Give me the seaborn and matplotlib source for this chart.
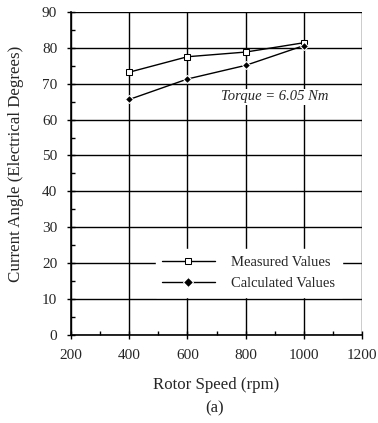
import pandas as pd
import seaborn as sns
import matplotlib.pyplot as plt
from matplotlib.ticker import MultipleLocator

speed = [400, 600, 800, 1000]
measured = [73.2, 77.5, 78.8, 81.4]
calculated = [65.6, 71.3, 75.1, 80.6]

df = pd.DataFrame({'speed': speed * 2,
                   'angle': measured + calculated,
                   'series': ['Measured Values'] * 4 + ['Calculated Values'] * 4})

sns.set_style('white')
plt.rcParams['font.family'] = ['Liberation Serif', 'DejaVu Serif']

fig = plt.figure(figsize=(3.78, 4.23), dpi=100)
ax = fig.add_axes([0.188, 0.208, 0.770, 0.764])

sns.lineplot(data=df, x='speed', y='angle', hue='series', style='series',
             markers={'Measured Values': 's', 'Calculated Values': 'D'},
             dashes=False, palette=['black', 'black'], linewidth=1.0,
             markersize=5, ax=ax)
ax.get_lines()[0].set_markerfacecolor('white')
ax.get_lines()[0].set_markeredgecolor('black')
ax.get_lines()[1].set_markersize(4)

ax.set_xlim(200, 1200)
ax.set_ylim(0, 90)
ax.xaxis.set_major_locator(MultipleLocator(200))
ax.xaxis.set_minor_locator(MultipleLocator(100))
ax.yaxis.set_major_locator(MultipleLocator(10))
ax.yaxis.set_minor_locator(MultipleLocator(5))
ax.grid(True, which='major', color='black', linewidth=1.0)
ax.tick_params(which='both', bottom=True, left=True, top=False, right=False,
               color='black', labelsize=11, width=1)
ax.tick_params(which='major', direction='inout', length=6, pad=7)
ax.tick_params(which='minor', direction='in', length=3)
for s in ['top', 'right']:
    ax.spines[s].set_visible(False)
for s in ['left', 'bottom']:
    ax.spines[s].set_color('black')
    ax.spines[s].set_linewidth(1.2)

ax.set_xlabel('Rotor Speed (rpm)', fontsize=12.2, labelpad=11)
ax.set_ylabel('Current Angle (Electrical Degrees)', fontsize=12.2)
ax.yaxis.set_label_coords(-0.16, 0.53)
ax.text(900, 66.3, 'Torque = 6.05 Nm', style='italic', fontsize=10.5, ha='center', va='center',
        bbox=dict(facecolor='white', edgecolor='none', pad=1))

handles, labels = ax.get_legend_handles_labels()
handles[0].set_markerfacecolor('white')
handles[0].set_markeredgecolor('black')
leg = ax.legend(handles, labels, loc='lower right', bbox_to_anchor=(0.931, 0.118),
                frameon=True, handlelength=3.6, handletextpad=1.15, fontsize=10.5,
                borderpad=0.45, borderaxespad=0, labelspacing=0.58, fancybox=False)
leg.get_frame().set_facecolor('white')
leg.get_frame().set_edgecolor('white')
leg.get_frame().set_alpha(1)

fig.text(0.567, 0.025, '(a)', fontsize=12, ha='center')

fig.savefig('out.png', dpi=100)
